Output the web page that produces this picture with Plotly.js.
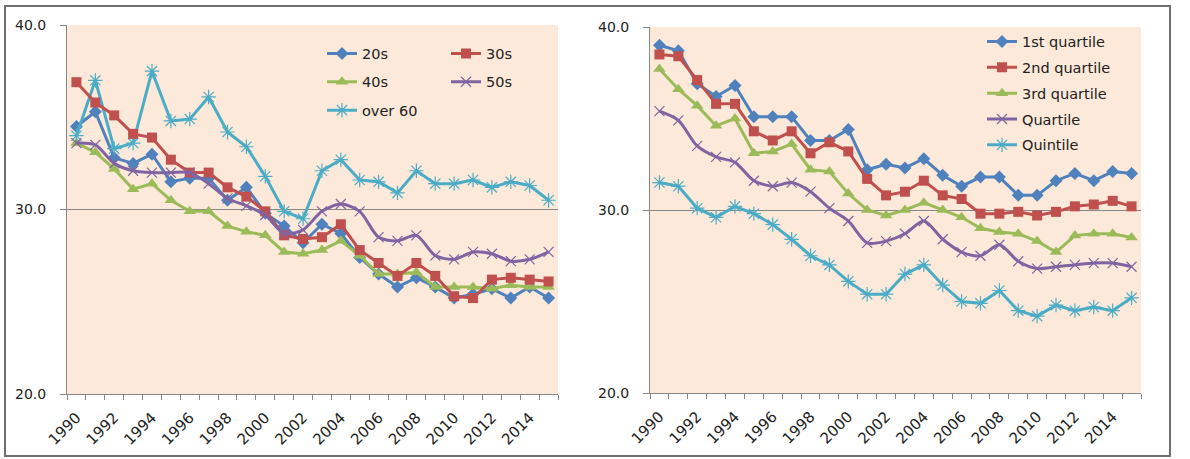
<!DOCTYPE html>
<html><head><meta charset="utf-8">
<script src="https://cdn.plot.ly/plotly-3.0.1.min.js"></script>
<style>html,body{margin:0;padding:0;background:#fff}#chart{width:1190px;height:459px}</style>
</head><body><div id="chart"></div>
<script>
const years = [1990,1991,1992,1993,1994,1995,1996,1997,1998,1999,2000,2001,2002,2003,2004,2005,2006,2007,2008,2009,2010,2011,2012,2013,2014,2015];
const tickYears = [1990,1992,1994,1996,1998,2000,2002,2004,2006,2008,2010,2012,2014];
const yTicks = [20,30,40];

// Left chart: by age group
const ageNames = ["20s","30s","40s","50s","over 60"];
const age20s = [34.5,35.3,32.8,32.5,33.0,31.5,31.7,31.7,30.5,31.2,29.8,29.1,28.2,29.2,28.7,27.4,26.5,25.8,26.3,25.8,25.2,25.4,25.7,25.2,25.8,25.2];
const age30s = [36.9,35.8,35.1,34.1,33.9,32.7,32.0,32.0,31.2,30.7,29.9,28.6,28.4,28.5,29.2,27.8,27.1,26.4,27.1,26.4,25.3,25.2,26.2,26.3,26.2,26.1];
const age40s = [33.6,33.1,32.2,31.1,31.4,30.5,29.9,29.9,29.1,28.8,28.6,27.7,27.6,27.8,28.3,27.5,26.5,26.5,26.6,25.8,25.8,25.8,25.7,25.9,25.8,25.8];
const age50s = [33.6,33.5,32.5,32.1,32.0,32.0,32.0,31.4,30.6,30.2,29.7,28.7,28.9,29.9,30.3,29.9,28.5,28.3,28.6,27.5,27.3,27.7,27.6,27.2,27.3,27.7];
const over60 = [34.0,37.0,33.3,33.6,37.5,34.8,34.9,36.1,34.2,33.4,31.8,29.9,29.5,32.1,32.7,31.6,31.5,30.9,32.1,31.4,31.4,31.6,31.2,31.5,31.3,30.5];

// Right chart: by income group
const incNames = ["1st quartile","2nd quartile","3rd quartile","Quartile","Quintile"];
const q1st = [39.0,38.7,36.9,36.2,36.8,35.1,35.1,35.1,33.8,33.8,34.4,32.2,32.5,32.3,32.8,31.9,31.3,31.8,31.8,30.8,30.8,31.6,32.0,31.6,32.1,32.0];
const q2nd = [38.5,38.4,37.1,35.8,35.8,34.3,33.8,34.3,33.1,33.7,33.2,31.7,30.8,31.0,31.6,30.8,30.6,29.8,29.8,29.9,29.7,29.9,30.2,30.3,30.5,30.2];
const q3rd = [37.7,36.6,35.7,34.6,35.0,33.1,33.2,33.6,32.2,32.1,30.9,30.0,29.7,30.0,30.4,30.0,29.6,29.0,28.8,28.7,28.3,27.7,28.6,28.7,28.7,28.5];
const quartile = [35.4,34.9,33.5,32.9,32.6,31.6,31.3,31.5,31.0,30.1,29.4,28.2,28.3,28.7,29.4,28.4,27.7,27.5,28.1,27.2,26.8,26.9,27.0,27.1,27.1,26.9];
const quintile = [31.5,31.3,30.1,29.6,30.2,29.8,29.2,28.4,27.5,27.0,26.1,25.4,25.4,26.5,27.0,25.9,25.0,24.9,25.6,24.5,24.2,24.8,24.5,24.7,24.5,25.2];

const colors = ["#4F81BD","#C0504D","#9BBB59","#8064A2","#4BACC6"];
const FONT = "'DejaVu Sans', Verdana, sans-serif";
const W = 1190, H = 459;
const px = v => v / W, py = v => 1 - v / H;

const markerStyles = [
  {symbol:"diamond", size:10},
  {symbol:"square", size:10},
  {symbol:"triangle-up", size:11},
  {symbol:"x-thin-open", size:10, line:{width:1.2}},
  {symbol:"asterisk-open", size:12, line:{width:1.2}}
];

function mk(y, name, i, xa, ya, legend, smooth) {
  const m = Object.assign({color: colors[i]}, markerStyles[i]);
  if (m.line) m.line = Object.assign({color: colors[i]}, m.line);
  return {
    x: years, y: y, name: name, type: "scatter", mode: "lines+markers",
    xaxis: xa, yaxis: ya, legend: legend, legendgroup: name,
    line: {color: colors[i], width: 3, shape: smooth ? "spline" : "linear", smoothing: 0.8},
    marker: m, hoverinfo: "x+y+name"
  };
}

const leftSeries = [age20s, age30s, age40s, age50s, over60];
const rightSeries = [q1st, q2nd, q3rd, quartile, quintile];
const leftLegend = ["legend","legend2","legend","legend2","legend"];
const data = [];
[0,2,4,1,3].forEach(i => data.push(mk(leftSeries[i], ageNames[i], i, "x", "y", leftLegend[i], i === 3)));
rightSeries.forEach((s, i) => data.push(mk(s, incNames[i], i, "x2", "y2", "legend3", i === 3)));

const bounds = years.map(y => y - 0.5).concat([years[years.length-1] + 0.5]);
const axisColor = "#868686";
function xAxis(dom) {
  return {
    domain: dom, range: [years[0]-0.5, years[years.length-1]+0.5],
    tickmode: "array", tickvals: tickYears, ticktext: tickYears.map(String),
    tickangle: -45, ticks: "", showline: true, linecolor: axisColor, linewidth: 1,
    showgrid: false, zeroline: false, ticklabelstandoff: 8,
    minor: {tickmode: "array", tickvals: bounds, ticks: "outside", ticklen: 5, tickcolor: axisColor, showgrid: false},
    tickfont: {family: FONT, size: 15, color: "#222"}, fixedrange: true
  };
}
function yAxis(dom, anchor) {
  return {
    domain: dom, anchor: anchor, range: [20, 40], tickmode: "array", tickvals: yTicks,
    tickformat: ".1f", ticks: "outside", ticklen: 6, tickcolor: axisColor,
    showgrid: true, gridcolor: axisColor, gridwidth: 1, showline: true, linecolor: axisColor,
    zeroline: false, tickfont: {family: FONT, size: 14, color: "#222"}, fixedrange: true,
    ticklabelstandoff: 11
  };
}
const legendBase = {bgcolor: "rgba(0,0,0,0)", xanchor: "left", yanchor: "top",
  font: {family: FONT, size: 14.5, color: "#222"}, itemwidth: 30};

const layout = {
  width: W, height: H, margin: {l: 0, r: 0, t: 0, b: 0},
  paper_bgcolor: "#ffffff", plot_bgcolor: "#FDE9D9",
  font: {family: FONT, size: 14, color: "#222"},
  xaxis: Object.assign(xAxis([px(67), px(558)]), {anchor: "y"}),
  yaxis: yAxis([py(394), py(25)], "x"),
  xaxis2: Object.assign(xAxis([px(650), px(1141)]), {anchor: "y2"}),
  yaxis2: yAxis([py(393), py(27)], "x2"),
  legend: Object.assign({}, legendBase, {x: px(322), y: py(37.5), tracegroupgap: 6.5}),
  legend2: Object.assign({}, legendBase, {x: px(446), y: py(37.5), tracegroupgap: 6.5}),
  legend3: Object.assign({}, legendBase, {x: px(982), y: py(25.5), tracegroupgap: 4}),
  shapes: [
    {type: "rect", xref: "paper", yref: "paper", x0: px(5), x1: px(1170), y0: py(456), y1: py(6),
     line: {color: "#6f6f6f", width: 2}, fillcolor: "rgba(0,0,0,0)", layer: "above"}
  ],
  showlegend: true
};

Plotly.newPlot("chart", data, layout, {displayModeBar: false, staticPlot: true});
</script>
</body></html>
